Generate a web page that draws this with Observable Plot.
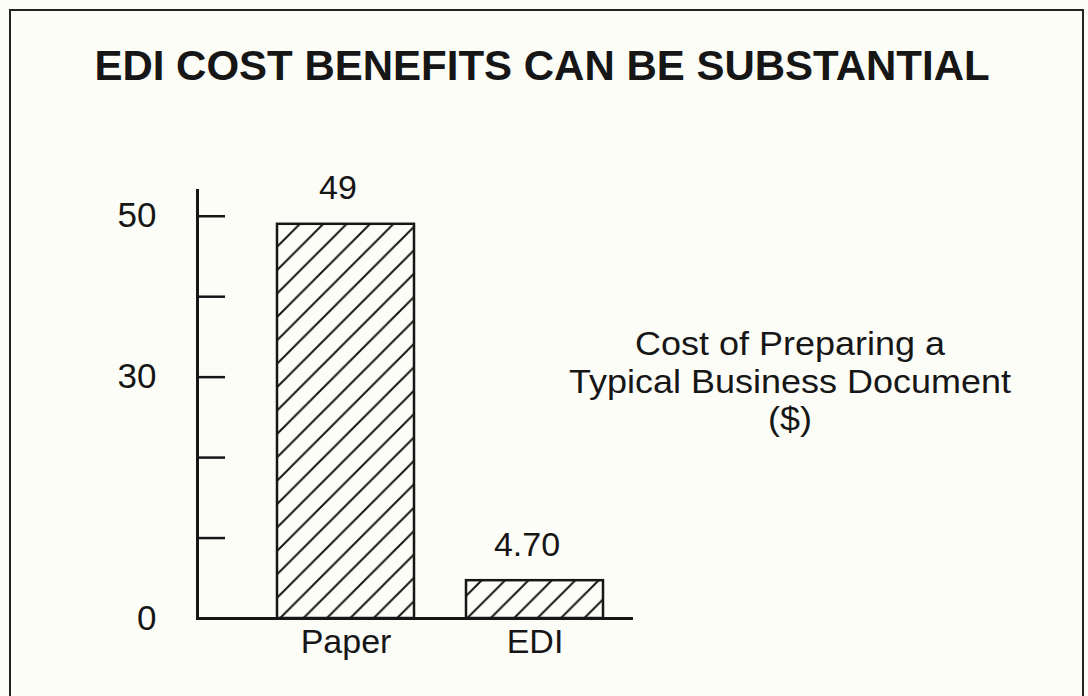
<!DOCTYPE html>
<html>
<head>
<meta charset="utf-8">
<script src="https://cdn.jsdelivr.net/npm/d3@7"></script>
<script src="https://cdn.jsdelivr.net/npm/@observablehq/plot@0.6"></script>
<style>
  body { margin: 0; background: #fdfdf8; }
  #page { position: relative; width: 1088px; height: 696px; overflow: hidden; background: #fdfdf8;
          font-family: "Liberation Sans", Arial, Helvetica, sans-serif; color: #161616; }
  #border { position: absolute; left: 9px; top: 9px; width: 1071px; height: 740px; border: 2px solid #222; }
  #title { position: absolute; left: -2px; width: 1088px; top: 45px; text-align: center; font-weight: bold;
           font-size: 42px; line-height: 42px; white-space: nowrap; }
  #note { position: absolute; left: 540px; width: 500px; top: 325px; text-align: center;
          font-size: 33px; line-height: 37.5px; transform: scaleX(1.09); white-space: nowrap; }
  #chart { position: absolute; left: 0; top: 0; }
</style>
</head>
<body>
<div id="page">
  <div id="border"></div>
  <div id="title"></div>
  <div id="note"></div>
  <div id="chart"></div>
</div>
<script>
const titleText = "EDI COST BENEFITS CAN BE SUBSTANTIAL";
const noteLines = ["Cost of Preparing a", "Typical Business Document", "($)"];
const categories = ["Paper", "EDI"];
const costs = [49, 4.70];
const valueLabels = ["49", "4.70"];
const yTickLabels = [0, 30, 50];
const yTickMarks = [10, 20, 30, 40, 50];

const data = categories.map((c, i) => ({category: c, cost: costs[i], label: valueLabels[i]}));

document.getElementById("title").textContent = titleText;
const note = document.getElementById("note");
noteLines.forEach(t => { const d = document.createElement("div"); d.textContent = t; note.appendChild(d); });

const ink = "#161616";
const W = 1088, H = 696, mL = 197, mR = 455, mT = 190, mB = 78;
const frameW = W - mL - mR;

const chart = Plot.plot({
  width: W, height: H,
  marginTop: mT, marginBottom: mB, marginLeft: mL, marginRight: mR,
  style: {background: "transparent", color: ink, fontFamily: "'Liberation Sans', Arial, Helvetica, sans-serif", overflow: "visible"},
  x: {type: "band", domain: categories, paddingInner: 0.274, paddingOuter: 0.2845, align: 0.73},
  y: {domain: [0, 53.2]},
  marks: [
    Plot.barY(data, {x: "category", y: "cost", fill: "url(#hatch)", stroke: ink, strokeWidth: 2.5}),
    Plot.ruleY(yTickMarks, {y: d => d, insetRight: frameW - 28, stroke: ink, strokeWidth: 2.5}),
    Plot.ruleY([0], {stroke: ink, strokeWidth: 3}),
    Plot.frame({anchor: "left", stroke: ink, strokeWidth: 3}),
    Plot.axisY({ticks: yTickLabels, tickSize: 0, tickPadding: 41, fontSize: 35, label: null, tickFormat: d => String(d)}),
    Plot.axisX({tickSize: 0, tickPadding: 10, fontSize: 34, label: null}),
    Plot.text(data, {x: "category", y: "cost", text: "label", dy: -25, dx: -8, lineAnchor: "bottom", fontSize: 34, fill: ink})
  ]
});

const defs = d3.select(chart).insert("defs", ":first-child");
const s = 23.4;
const pat = defs.append("pattern")
  .attr("id", "hatch")
  .attr("patternUnits", "userSpaceOnUse")
  .attr("width", s).attr("height", s)
  .attr("patternTransform", "translate(9,0)");
pat.append("rect").attr("width", s).attr("height", s).attr("fill", "#fdfdf8");
pat.append("path")
  .attr("d", `M0,${s} L${s},0 M${-s/2},${s/2} L${s/2},${-s/2} M${s/2},${s*1.5} L${s*1.5},${s/2}`)
  .attr("stroke", ink).attr("stroke-width", 2).attr("fill", "none");

document.getElementById("chart").appendChild(chart);
</script>
</body>
</html>
